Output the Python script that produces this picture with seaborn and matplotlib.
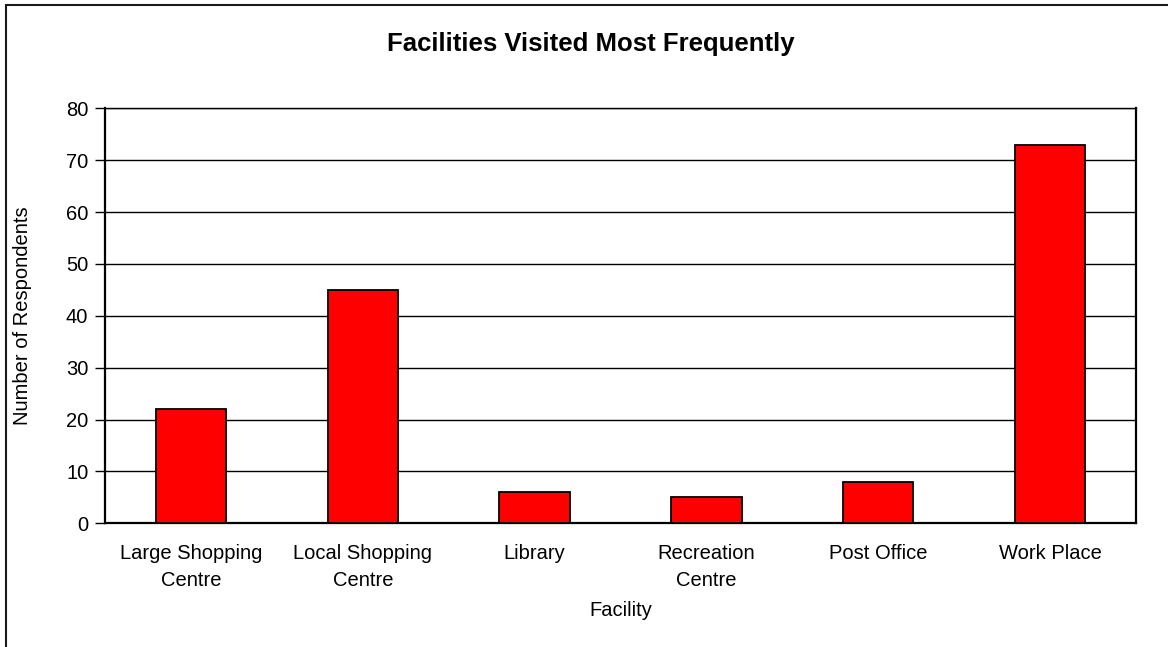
import matplotlib
matplotlib.use("Agg")
import matplotlib.pyplot as plt
import seaborn as sns
import pandas as pd
from matplotlib.patches import Rectangle
from matplotlib.ticker import FixedLocator, MultipleLocator

facilities = ["Large Shopping\nCentre", "Local Shopping\nCentre", "Library",
              "Recreation\nCentre", "Post Office", "Work Place"]
respondents = [22, 45, 6, 5, 8, 73]

sns.set_style("white")
plt.rcParams["font.family"] = ["Liberation Sans", "DejaVu Sans"]
plt.rcParams.update({"text.color": "black", "axes.labelcolor": "black",
                     "xtick.color": "black", "ytick.color": "black"})

df = pd.DataFrame({"Facility": facilities, "Respondents": respondents})

W, H = 1168, 647
fig = plt.figure(figsize=(W / 100, H / 100), dpi=100)
fig.patch.set_facecolor("white")

# Chart frame (only its left and top edges fall inside the canvas)
fig.patches.append(Rectangle((6 / W, -0.1), 1.2, 1 - 5 / H + 0.1,
                             transform=fig.transFigure, fill=False,
                             edgecolor="#1a1a1a", linewidth=1.5, zorder=0))

ax = fig.add_axes([105 / W, 1 - 523.3 / H, (1136 - 105) / W, (523.3 - 108.3) / H])

sns.barplot(data=df, x="Facility", y="Respondents", ax=ax, color="#ff0000",
            saturation=1, width=0.41, edgecolor="black", linewidth=1.3, zorder=3)

ax.set_ylim(0, 80)
ax.set_xlim(-0.5, len(facilities) - 0.5)
ax.yaxis.set_major_locator(MultipleLocator(10))
ax.grid(axis="y", color="black", linewidth=1.0, zorder=0)
ax.set_axisbelow(True)

ax.tick_params(axis="x", which="major", length=0, labelsize=14.5, pad=15)
ax.xaxis.set_minor_locator(FixedLocator([i - 0.5 for i in range(len(facilities) + 1)]))
ax.tick_params(axis="x", which="minor", length=7, width=1, color="black", direction="out")
ax.tick_params(axis="y", length=7, width=1, color="black", direction="out",
               labelsize=14.5, pad=5, left=True)
for lbl in ax.get_xticklabels():
    lbl.set_linespacing(1.55)

for side in ["left", "bottom", "right", "top"]:
    ax.spines[side].set_visible(True)
    ax.spines[side].set_color("black")
ax.spines["left"].set_linewidth(1.6)
ax.spines["bottom"].set_linewidth(1.6)
ax.spines["right"].set_linewidth(1.6)
ax.spines["top"].set_linewidth(1.0)

ax.set_xlabel("Facility", fontsize=14.5, labelpad=8)
ax.set_ylabel("Number of Respondents", fontsize=14.5)
ax.yaxis.set_label_coords(-(105 - 32) / (1136 - 105), 0.5)

fig.text(591 / W, 1 - 51 / H, "Facilities Visited Most Frequently", ha="center",
         va="baseline", fontsize=18.5, fontweight="bold")

fig.savefig("out.png", dpi=100)
